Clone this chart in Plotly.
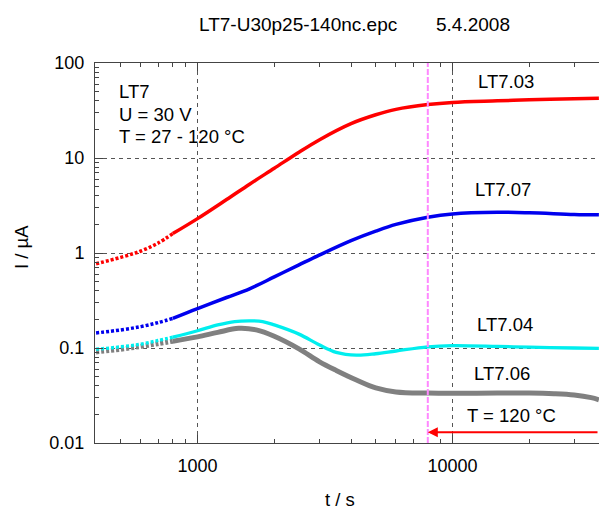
import numpy as np
import plotly.graph_objects as go

# ---- data ----
t_rb = [400, 500, 600, 700, 800, 1000, 1300, 1600, 2000, 2500, 3000, 4000,
        5000, 6000, 8000, 10000, 15000, 20000, 30000, 37500]
i_lt703 = [0.77, 0.9, 1.05, 1.27, 1.6, 2.3, 3.65, 5.3, 7.8, 11.5, 15.5, 23.0,
           28.5, 32.5, 36.5, 38.5, 40, 41, 42, 42.5]
i_lt707 = [0.144, 0.155, 0.168, 0.185, 0.205, 0.26, 0.34, 0.42, 0.56, 0.75, 0.95,
           1.35, 1.7, 2.0, 2.38, 2.58, 2.68, 2.65, 2.55, 2.52]

t_c = [400, 500, 600, 700, 800, 1000, 1200, 1400, 1600, 1800, 2000, 2500, 3000,
       3500, 4200, 5000, 6000, 8000, 10000, 15000, 20000, 30000, 37500]
i_lt704 = [0.097, 0.103, 0.11, 0.12, 0.13, 0.152, 0.175, 0.19, 0.193, 0.19, 0.175,
           0.14, 0.108, 0.09, 0.084, 0.087, 0.093, 0.103, 0.106, 0.104, 0.102,
           0.100, 0.099]

t_g = [400, 500, 600, 700, 800, 1000, 1200, 1450, 1700, 2000, 2500, 3000, 3500,
       4200, 5000, 6000, 8000, 10000, 15000, 20000, 25000, 30000, 35000, 37500]
i_lt706 = [0.091, 0.097, 0.104, 0.111, 0.118, 0.131, 0.146, 0.161, 0.155, 0.133,
           0.098, 0.072, 0.058, 0.046, 0.038, 0.0345, 0.0335, 0.0333, 0.0335,
           0.0335, 0.033, 0.032, 0.030, 0.0285]

x_tickvals = [1000, 10000]
x_ticktext = ["1000", "10000"]
y_tickvals = [0.01, 0.1, 1, 10, 100]
y_ticktext = ["0.01", "0.1", "1", "10", "100"]
x_minor = [500, 600, 700, 800, 900, 2000, 3000, 4000, 5000, 6000, 7000, 8000,
           9000, 20000, 30000]
y_minor = [m * d for d in [0.01, 0.1, 1, 10] for m in range(2, 10)]

t_switch = 800      # sparse (dotted-looking) sampling before this time
t_heat_end = 8000   # start of T = 120 °C plateau

title_text = "LT7-U30p25-140nc.epc"
date_text = "5.4.2008"

# ---- layout geometry ----
W, H = 599, 511
ML, MT, MB = 95, 63, 68
PW, PH = W - ML, H - MT - MB
XL = 2.598
XR = XL + PW / 255.0


def px(x):
    return (x - ML) / PW


def py(y):
    return (H - MB - y) / PH


FONT = "Liberation Sans, Arial, Helvetica, sans-serif"

fig = go.Figure()

series = [
    (t_g, i_lt706, "#808080", 5),
    (t_c, i_lt704, "#00eeee", 3.3),
    (t_rb, i_lt707, "#0000ee", 3.5),
    (t_rb, i_lt703, "#ff0000", 3.5),
]
for t, v, col, w in series:
    t = np.array(t)
    v = np.array(v)
    early = t <= t_switch
    late = t >= t_switch
    fig.add_trace(go.Scatter(x=t[early], y=v[early], mode="lines",
                             line=dict(color=col, width=w, dash="3px,2px",
                                       shape="spline", smoothing=1.0),
                             showlegend=False, hoverinfo="skip"))
    fig.add_trace(go.Scatter(x=t[late], y=v[late], mode="lines",
                             line=dict(color=col, width=w, shape="spline",
                                       smoothing=1.0),
                             showlegend=False, hoverinfo="skip"))

# magenta vertical line at end of heating
fig.add_shape(type="line", xref="x", yref="paper", x0=t_heat_end, x1=t_heat_end,
              y0=0, y1=1, line=dict(color="#ff88ff", width=2, dash="6px,2px"))

# arrow for T = 120 °C
fig.add_annotation(xref="x", yref="y", axref="x", ayref="y",
                   x=np.log10(t_heat_end), y=np.log10(0.013),
                   ax=XR, ay=np.log10(0.013), text="", showarrow=True,
                   arrowhead=2, arrowsize=1.0, arrowwidth=2, arrowcolor="#ff0000")

texts = [
    ("LT7", 117, 91, 18.5),
    ("U = 30 V", 117, 114, 18.5),
    ("T = 27 - 120 °C", 117, 136, 18.5),
    ("LT7.03", 476, 81, 18.5),
    ("LT7.07", 473, 189, 18.5),
    ("LT7.04", 475, 324, 18.5),
    ("LT7.06", 472, 373, 18.5),
    ("T = 120 °C", 465, 415, 18.5),
    (title_text, 197, 25, 19),
    (date_text, 434, 25, 19),
    ("t / s", 323, 499, 18.5),
]
for s, x, y, fs in texts:
    fig.add_annotation(xref="paper", yref="paper", x=px(x), y=py(y), text=s,
                       showarrow=False, xanchor="left", yanchor="middle",
                       font=dict(family=FONT, size=fs, color="#000000"))

fig.add_annotation(xref="paper", yref="paper", x=px(22), y=py(247), text="I / µA",
                   showarrow=False, textangle=-90, xanchor="center", yanchor="middle",
                   font=dict(family=FONT, size=18.5, color="#000000"))

axis_common = dict(showline=True, linecolor="#444444", linewidth=1,
                   ticks="inside", ticklen=8, tickcolor="#444444", tickwidth=1,
                   showgrid=True, gridcolor="#555555", gridwidth=1, griddash="4px,4px",
                   zeroline=False, tickfont=dict(family=FONT, size=18, color="#000000"),
                   ticklabelstandoff=6)

fig.update_xaxes(type="log", range=[XL, XR], tickmode="array", tickvals=x_tickvals,
                 ticktext=x_ticktext, mirror="ticks",
                 minor=dict(tickmode="array", tickvals=x_minor, ticks="inside",
                            ticklen=4, tickcolor="#444444", showgrid=False),
                 **axis_common)
fig.update_yaxes(type="log", range=[-2, 2], tickmode="array", tickvals=y_tickvals,
                 ticktext=y_ticktext, mirror=False,
                 minor=dict(tickmode="array", tickvals=y_minor, ticks="inside",
                            ticklen=4, tickcolor="#444444", showgrid=False),
                 **axis_common)

fig.update_layout(width=W, height=H, margin=dict(l=ML, r=0, t=MT, b=MB),
                  paper_bgcolor="white", plot_bgcolor="white", showlegend=False)

fig.write_html("out.html")
